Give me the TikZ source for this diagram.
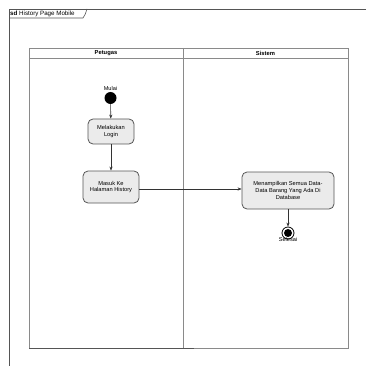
\documentclass[tikz,border=0pt]{standalone}
\usepackage{fontspec}
\setmainfont{Liberation Sans}
\usetikzlibrary{arrows.meta}
\definecolor{boxfill}{HTML}{EBEBEB}
\definecolor{lineg}{HTML}{555555}
\definecolor{laneg}{HTML}{8A8A8A}
\tikzset{
  act/.style={draw=lineg, line width=0.8pt, fill=boxfill, rounded corners=5pt, align=center, font=\fontsize{5.7}{6.7}\selectfont, inner sep=1pt},
  flow/.style={draw=black!80, line width=0.6pt, -{Stealth[length=4pt,width=3.2pt]}},
  lbl/.style={font=\fontsize{5.6}{6.6}\selectfont, inner sep=0pt},
  hdr/.style={font=\bfseries\fontsize{5.8}{7}\selectfont, inner sep=0pt},
}
\begin{document}
\begin{tikzpicture}[x=1pt,y=-1pt]
\useasboundingbox (0,0) rectangle (366,366);
% frame
\draw[lineg, line width=0.8pt] (366,9) -- (9,9) -- (9,366);
\draw[lineg, line width=0.6pt] (9,18) -- (83,18) .. controls (85,15) .. (87,9);
\node[anchor=west, inner sep=0pt, font=\fontsize{6.2}{7}\selectfont] (title) at (10,13.5) {\textbf{sd} History Page Mobile};
% swimlanes
\draw[laneg, line width=0.7pt] (29,48) rectangle (348,348);
\draw[laneg, line width=0.7pt] (29,58) -- (348,58);
\draw[laneg, line width=0.7pt] (183,48) -- (183,348);
\draw[lineg, line width=0.8pt] (29,348) -- (194,348);
\node[hdr] (petugas) at (106,53) {Petugas};
\node[hdr] (sistem) at (265.5,53) {Sistem};
% nodes
\node[circle, fill=black, minimum size=12pt, inner sep=0pt] (start) at (110.5,98) {};
\node[lbl, anchor=south] (mulai) at (110.5,91) {Mulai};
\node[act, minimum width=46pt, minimum height=25pt] (login) at (111,131.5) {Melakukan\\Login};
\node[act, minimum width=56pt, minimum height=32pt] (masuk) at (111,187) {Masuk Ke\\Halaman History};
\node[act, minimum width=92pt, minimum height=37pt] (tampil) at (288,190.5) {Menampilkan Semua Data-\\Data Barang Yang Ada Di\\Database};
\node[circle, draw=black, line width=0.8pt, fill=white, minimum size=12pt, inner sep=0pt] (end) at (288,233) {};
\node[circle, fill=black, minimum size=8pt, inner sep=0pt] (endin) at (end.center) {};
\node[lbl, anchor=north] (selesai) at (288,237.5) {Selesai};
% flows
\draw[flow] (start) -- (login);
\draw[flow] (login) -- (masuk);
\draw[flow] (masuk.east |- 0,189) -- (tampil.west |- 0,189);
\draw[flow] (tampil) -- (end);
\end{tikzpicture}
\end{document}
